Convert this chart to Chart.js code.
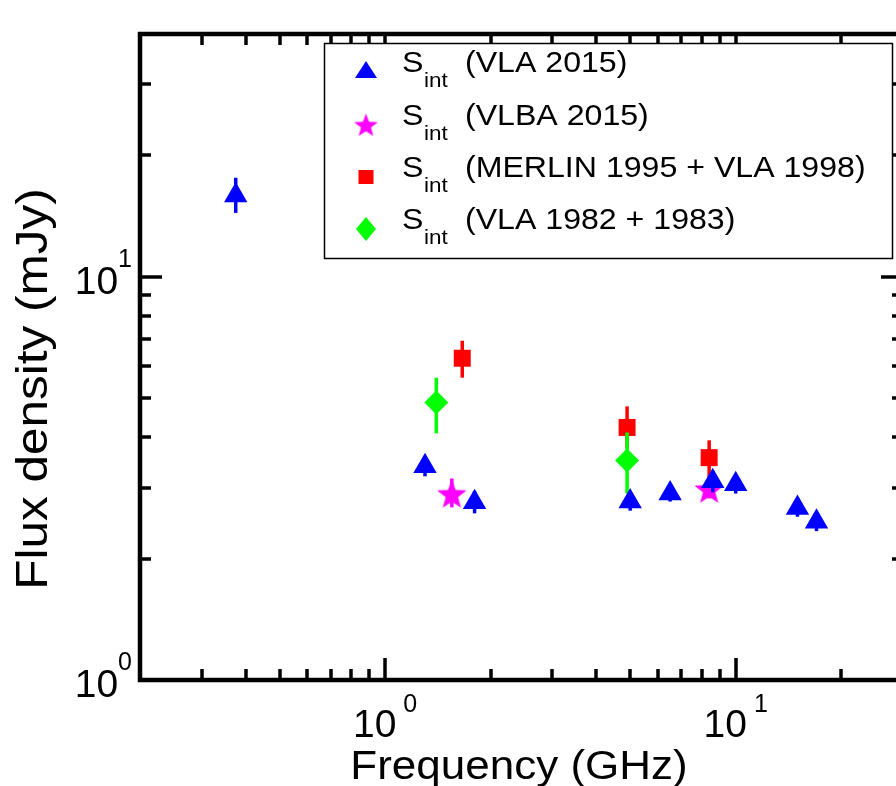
<!DOCTYPE html>
<html>
<head>
<meta charset="utf-8">
<script src="https://cdn.jsdelivr.net/npm/chart.js@4/dist/chart.umd.min.js"></script>
<style>
  html, body { margin: 0; padding: 0; background: #fff; overflow: hidden; }
  #wrap { width: 896px; height: 786px; overflow: hidden; position: relative; }
  #wrap canvas { position: absolute; left: 0; top: 0; }
</style>
</head>
<body>
<div id="wrap"><canvas id="chart" width="910" height="786"></canvas></div>
<script>
// -------------------------------------------------------------
// Data (GHz / mJy)
// -------------------------------------------------------------
const vlaFreq = [0.375, 1.30, 1.80, 5.0, 6.5, 8.6, 10.0, 15.0, 17.0]
const vlaFlux = [15.9, 3.39, 2.76, 2.77, 2.90, 3.11, 3.06, 2.67, 2.47]
const vlaLo   = [14.4, 3.20, 2.59, 2.63, 2.77, 2.92, 2.90, 2.54, 2.34]
const vlaHi   = [17.6, 3.59, 2.94, 2.92, 3.04, 3.30, 3.22, 2.81, 2.61]

const vlbaFreq = [1.55, 8.4]
const vlbaFlux = [2.89, 2.97]
const vlbaLo   = [2.68, 2.82]
const vlbaHi   = [3.16, 3.13]

const merlinFreq = [1.66, 4.9, 8.4]
const merlinFlux = [6.28, 4.23, 3.56]
const merlinLo   = [5.62, 3.75, 3.18]
const merlinHi   = [6.94, 4.77, 3.93]

const vla82Freq = [1.40, 4.9]
const vla82Flux = [4.88, 3.50]
const vla82Lo   = [4.09, 2.90]
const vla82Hi   = [5.62, 4.11]

const xMajor = [1, 10]
const xMinor = [0.3, 0.4, 0.5, 0.6, 0.7, 0.8, 0.9, 2, 3, 4, 5, 6, 7, 8, 9, 20, 30]
const yMajor = [1, 10]
const yMinor = [2, 3, 4, 5, 6, 7, 8, 9, 20, 30, 40]
const xTickLabels = ['10|0', '10|1']
const yTickLabels = ['10|0', '10|1']

const legendNames = ['(VLA 2015)', '(VLBA 2015)', '(MERLIN 1995 + VLA 1998)', '(VLA 1982 + 1983)']

const BLUE = '#0000ff', MAGENTA = '#ff00ff', RED = '#ff0000', GREEN = '#00ff00'
const FONT = '"Liberation Sans", Arial, Helvetica, sans-serif'
const STRETCH = 1.1   // reference font runs a little wider than Liberation Sans

// filled five-point star, used as a point style
function makeStar(size, color) {
  const c = document.createElement('canvas')
  c.width = c.height = size
  const g = c.getContext('2d')
  const R = size / 2, r = R * 0.42
  g.beginPath()
  for (let i = 0; i < 10; i++) {
    const a = -Math.PI / 2 + i * Math.PI / 5
    const rr = i % 2 ? r : R
    g.lineTo(R + rr * Math.cos(a), R + 1 + rr * Math.sin(a))
  }
  g.closePath()
  g.fillStyle = color
  g.fill()
  return c
}
const starImg = makeStar(31, MAGENTA)
const starSmall = makeStar(25, MAGENTA)

const pts = (xs, ys) => xs.map((x, i) => ({ x, y: ys[i] }))

function wideText(ctx, text, x, y, rot, k = STRETCH) {
  ctx.save()
  ctx.translate(x, y)
  if (rot) ctx.rotate(rot)
  ctx.scale(k, 1)
  ctx.fillText(text, 0, 0)
  ctx.restore()
}

// -------------------------------------------------------------
// Frame, ticks, labels, error bars and legend
// -------------------------------------------------------------
const decor = {
  id: 'decor',
  beforeDatasetDraw(chart, args) {
    const ds = chart.data.datasets[args.index]
    const xs = chart.scales.x, ys = chart.scales.y
    const ctx = chart.ctx
    ctx.save()
    ctx.beginPath()
    const a = chart.chartArea
    ctx.rect(a.left, a.top, a.right - a.left, a.bottom - a.top)
    ctx.clip()
    ctx.strokeStyle = ds.backgroundColor
    ctx.lineWidth = 3.5
    ds.data.forEach((p, i) => {
      const px = xs.getPixelForValue(p.x)
      ctx.beginPath()
      ctx.moveTo(px, ys.getPixelForValue(ds.errLo[i]))
      ctx.lineTo(px, ys.getPixelForValue(ds.errHi[i]))
      ctx.stroke()
    })
    ctx.restore()
  },
  afterDraw(chart) {
    const ctx = chart.ctx
    const xs = chart.scales.x, ys = chart.scales.y
    const a = chart.chartArea
    ctx.save()
    ctx.strokeStyle = '#000'
    ctx.fillStyle = '#000'

    // ticks on all four sides, pointing inward
    ctx.lineWidth = 3.5
    const tick = (vals, len) => {
      vals.forEach(v => {
        const px = Math.round(xs.getPixelForValue(v))
        ctx.beginPath(); ctx.moveTo(px, a.bottom); ctx.lineTo(px, a.bottom - len); ctx.stroke()
        ctx.beginPath(); ctx.moveTo(px, a.top); ctx.lineTo(px, a.top + len); ctx.stroke()
      })
    }
    const ytick = (vals, len) => {
      vals.forEach(v => {
        const py = Math.round(ys.getPixelForValue(v))
        ctx.beginPath(); ctx.moveTo(a.left, py); ctx.lineTo(a.left + len, py); ctx.stroke()
        ctx.beginPath(); ctx.moveTo(a.right, py); ctx.lineTo(a.right - len, py); ctx.stroke()
      })
    }
    tick(xMinor, 11); tick(xMajor, 22)
    ytick(yMinor, 11); ytick(yMajor, 22)

    // frame
    ctx.lineWidth = 4.5
    ctx.strokeRect(a.left, a.top, a.right - a.left, a.bottom - a.top)

    // tick labels with superscript exponent
    ctx.textBaseline = 'alphabetic'
    xMajor.forEach((v, i) => {
      const [base, exp] = xTickLabels[i].split('|')
      const px = xs.getPixelForValue(v)
      ctx.font = `39px ${FONT}`
      const wb = ctx.measureText(base).width
      ctx.font = `25px ${FONT}`
      const we = ctx.measureText(exp).width
      const gap = 7
      const left = px - (wb + gap + we) / 2
      ctx.font = `39px ${FONT}`
      ctx.textAlign = 'left'
      ctx.fillText(base, left, a.bottom + 57)
      ctx.font = `25px ${FONT}`
      ctx.fillText(exp, left + wb + gap, a.bottom + 32)
    })
    yMajor.forEach((v, i) => {
      const [base, exp] = yTickLabels[i].split('|')
      const py = ys.getPixelForValue(v)
      ctx.font = `25px ${FONT}`
      ctx.textAlign = 'right'
      ctx.fillText(exp, 132, py - 10)
      const we = ctx.measureText(exp).width
      ctx.font = `39px ${FONT}`
      ctx.fillText(base, 132 - we, py + 17)
    })

    // axis titles
    ctx.textAlign = 'center'
    ctx.font = `40px ${FONT}`
    wideText(ctx, 'Frequency (GHz)', 519, 779)
    ctx.font = `45px ${FONT}`
    wideText(ctx, 'Flux density (mJy)', 47, 389, -Math.PI / 2)

    // legend
    const L = 324, T = 43, R = 892, B = 258
    ctx.fillStyle = '#fff'
    ctx.fillRect(L, T, R - L, B - T)
    ctx.lineWidth = 1.5
    ctx.strokeStyle = '#000'
    ctx.strokeRect(L + 0.5, T + 0.5, R - L, B - T)
    const rows = [72, 125, 177, 229]
    const mx = 366
    // markers
    ctx.fillStyle = BLUE
    ctx.beginPath()
    ctx.moveTo(mx, rows[0] - 11); ctx.lineTo(mx + 11, rows[0] + 6); ctx.lineTo(mx - 11, rows[0] + 6)
    ctx.closePath(); ctx.fill()
    ctx.drawImage(starSmall, mx - 12.5, rows[1] - 12.5)
    ctx.fillStyle = RED
    ctx.fillRect(mx - 7.5, rows[2] - 7, 15, 14)
    ctx.fillStyle = GREEN
    ctx.beginPath()
    ctx.moveTo(mx, rows[3] - 12); ctx.lineTo(mx + 10, rows[3]); ctx.lineTo(mx, rows[3] + 12); ctx.lineTo(mx - 10, rows[3])
    ctx.closePath(); ctx.fill()
    // text
    ctx.fillStyle = '#000'
    ctx.textAlign = 'left'
    legendNames.forEach((name, i) => {
      const y = rows[i]
      ctx.font = `30px ${FONT}`
      wideText(ctx, 'S', 402, y, 0, 1.07)
      ctx.font = `21px ${FONT}`
      wideText(ctx, 'int', 424, y + 15, 0, 1.07)
      ctx.font = `30px ${FONT}`
      wideText(ctx, name, 465, y, 0, 1.07)
    })
    ctx.restore()
  }
}

// -------------------------------------------------------------
// Chart
// -------------------------------------------------------------
new Chart(document.getElementById('chart'), {
  type: 'scatter',
  data: {
    datasets: [
      { label: 'VLA 2015', data: pts(vlaFreq, vlaFlux), errLo: vlaLo, errHi: vlaHi,
        backgroundColor: BLUE, borderColor: BLUE, pointStyle: 'triangle', pointRadius: 13.5, borderWidth: 0 },
      { label: 'VLBA 2015', data: pts(vlbaFreq, vlbaFlux), errLo: vlbaLo, errHi: vlbaHi,
        backgroundColor: MAGENTA, borderColor: MAGENTA, pointStyle: starImg, pointRadius: 15 },
      { label: 'VLA 1982 + 1983', data: pts(vla82Freq, vla82Flux), errLo: vla82Lo, errHi: vla82Hi,
        backgroundColor: GREEN, borderColor: GREEN, pointStyle: 'rectRot', pointRadius: 12, borderWidth: 0 },
      { label: 'MERLIN 1995 + VLA 1998', data: pts(merlinFreq, merlinFlux), errLo: merlinLo, errHi: merlinHi,
        backgroundColor: RED, borderColor: RED, pointStyle: 'rect', pointRadius: 12, borderWidth: 0 }
    ]
  },
  options: {
    responsive: false,
    animation: false,
    devicePixelRatio: 1,
    layout: { autoPadding: false, padding: { left: 140, top: 34, right: 7, bottom: 106 } },
    plugins: { legend: { display: false }, tooltip: { enabled: false } },
    scales: {
      x: { type: 'logarithmic', min: 0.2, max: 30, display: false },
      y: { type: 'logarithmic', min: 1, max: 40, display: false }
    }
  },
  plugins: [decor]
})
</script>
</body>
</html>
